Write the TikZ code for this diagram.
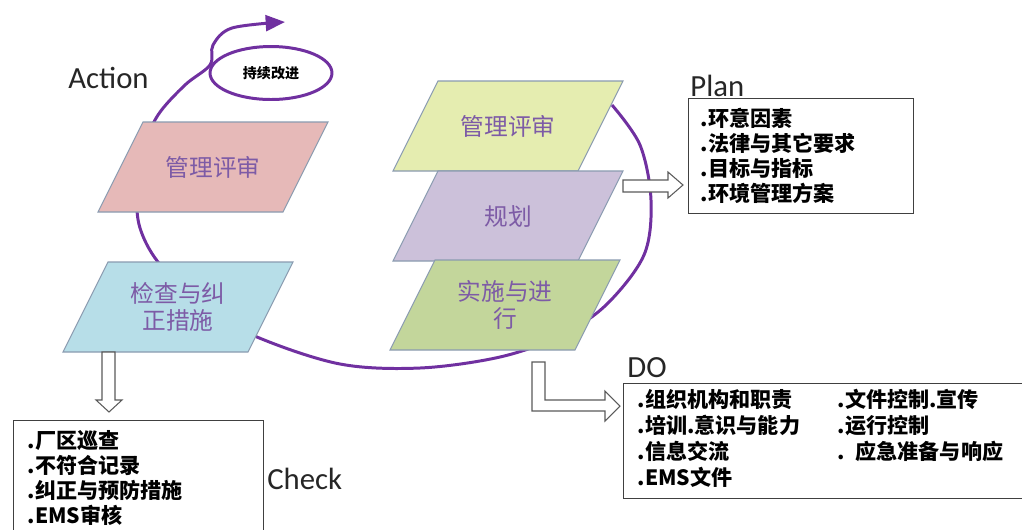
\documentclass[tikz,border=0pt]{standalone}
\usepackage{fontspec}
\setmainfont{Carlito}
\newfontfamily\cjk{Noto Sans CJK SC}
\usetikzlibrary{arrows.meta,shapes.geometric}
\definecolor{loopc}{HTML}{7030A0}
\definecolor{pgtxt}{HTML}{7D5BA6}
\definecolor{pgedge}{HTML}{8A9BB0}
\definecolor{pinkf}{HTML}{E6B9B8}
\definecolor{skyf}{HTML}{B7DEE8}
\definecolor{yelf}{HTML}{E5EDB0}
\definecolor{lavf}{HTML}{CCC1DA}
\definecolor{grnf}{HTML}{C3D69B}
\definecolor{boxedge}{HTML}{404040}
\definecolor{arredge}{HTML}{5A5A5A}
\tikzset{
  loopline/.style={draw=loopc, line width=1.7pt},
  pg/.style={draw=pgedge, line width=0.6pt},
  pgtext/.style={text=pgtxt, font=\cjk\fontsize{13.5}{15.3}\selectfont, align=center},
  listbox/.style={draw=boxedge, line width=0.8pt, anchor=north west, align=left,
    minimum height=2.3cm, font=\cjk\bfseries\fontsize{12}{14.2}\selectfont},
  phase/.style={font=\fontsize{17.5}{20}\selectfont, text=black!85, anchor=base west, inner sep=0pt},
  blockarrow/.style={draw=arredge, fill=white, line width=0.6pt}
}
\newcommand{\PgramAt}[4]{%
  \draw[pg, fill=#3] (#2) ++(-115,45) -- ++(185,0) -- ++(45,-90) -- ++(-185,0) -- cycle;
  \node[pgtext] (#1) at (#2) {#4};
}

\begin{document}
\begin{tikzpicture}[x=0.02cm, y=-0.02cm]
  \path[use as bounding box] (0,0) rectangle (1022,529);
  \clip (0,0) rectangle (1022,529);
  \fill[white] (0,0) rectangle (1022,529);

  \draw[loopline, -{Triangle[length=11pt,width=9pt]}] plot[smooth, tension=0.55] coordinates {
    (612,105) (640,145) (651,200) (644,255) (606,305) (560,336) (500,357) (420,368)
    (340,364) (257,337) (200,305) (158,262) (140,228) (137,195) (143,150) (158,115)
    (185,85) (210,65) (213,45) (232,28) (285,22)};
  \node[draw=loopc, line width=1.7pt, ellipse, minimum width=2.44cm, minimum height=1.06cm,
    inner sep=0pt, font=\cjk\bfseries\fontsize{8}{9}\selectfont] (kaizen) at (271,73) {持续改进};

  \PgramAt{act}{213,167}{pinkf}{管理评审}
  \PgramAt{chk}{178,307}{skyf}{检查与纠\\正措施}
  \PgramAt{rev}{508,126}{yelf}{管理评审}
  \PgramAt{pln}{508,216}{lavf}{规划}
  \PgramAt{dop}{505,305}{grnf}{实施与进\\行}

  \node[phase] (action) at (68,88) {Action};
  \node[phase] (plan) at (690,96) {Plan};
  \node[phase] (do) at (627,377) {DO};
  \node[phase] (check) at (267,489) {Check};

  \node[listbox, minimum width=4.5cm, inner xsep=0.24cm, text width=4.02cm] (planbox) at (688,98)
    {.环意因素\\.法律与其它要求\\.目标与指标\\.环境管理方案};
  \node[listbox, minimum width=8.14cm, inner xsep=0.28cm, text width=7.58cm] (dobox) at (623,383)
    {\begin{tabular}{@{}p{4cm}@{}l@{}}
      .组织机构和职责 & .文件控制.宣传\\
      .培训.意识与能力 & .运行控制\\
      .信息交流 & . 应急准备与响应\\
      .EMS文件 &
    \end{tabular}};
  \node[listbox, minimum width=5cm, inner xsep=0.28cm, text width=4.44cm] (checkbox) at (13,420)
    {.厂区巡查\\.不符合记录\\.纠正与预防措施\\.EMS审核};

  \draw[blockarrow] (623,180) -- (668,180) -- (668,172) -- (683,185) -- (668,198) -- (668,192) -- (623,192) -- cycle;
  \draw[blockarrow] (532,362) -- (545,362) -- (545,400) -- (605,400) -- (605,391) -- (620,406)
    -- (605,421) -- (605,411) -- (532,411) -- cycle;
  \draw[blockarrow] (102,352) -- (115,352) -- (115,400) -- (122,400) -- (109,412) -- (96,400) -- (102,400) -- cycle;
\end{tikzpicture}
\end{document}
